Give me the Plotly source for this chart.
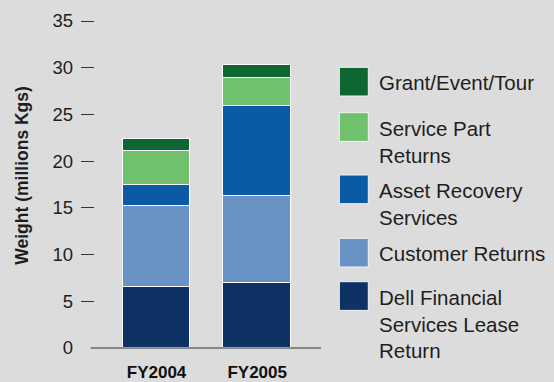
import plotly.graph_objects as go

# Recycled weight by take-back programme (millions of kg)
years = ["FY2004", "FY2005"]
series_names = [
    "Dell Financial<br>Services Lease<br>Return",
    "Customer Returns",
    "Asset Recovery<br>Services",
    "Service Part<br>Returns",
    "Grant/Event/Tour",
]
dell_financial = [6.5, 7.0]
customer_returns = [8.7, 9.3]
asset_recovery = [2.3, 9.6]
service_parts = [3.6, 3.0]
grant_event_tour = [1.3, 1.4]
series_values = [dell_financial, customer_returns, asset_recovery,
                 service_parts, grant_event_tour]
series_colors = ["#0f3264", "#6a93c5", "#0a5aa6", "#70c16d", "#0e6632"]
y_ticks = [0, 5, 10, 15, 20, 25, 30, 35]

W, H = 554, 382
L, R, T, B = 95, 233, 21, 34
PW, PH = W - L - R, H - T - B
BG = "#dcdcdc"
FONT = "Liberation Sans, Arial, sans-serif"


def px_x(p):
    return (p - L) / PW


def px_y(p):
    return (H - B - p) / PH


fig = go.Figure()
for name, vals, col in zip(series_names, series_values, series_colors):
    fig.add_trace(go.Bar(
        x=years, y=vals, name=name, width=0.675,
        marker=dict(color=col, line=dict(color="white", width=1.2)),
        showlegend=False,
    ))

# invisible carrier for the tick-mark axis
fig.add_trace(go.Scatter(x=[years[0]], y=[0], yaxis="y2", mode="markers",
                         marker=dict(opacity=0), showlegend=False,
                         hoverinfo="skip"))

shapes = [dict(type="line", xref="paper", yref="paper",
               x0=px_x(90.7), x1=px_x(321), y0=0, y1=0,
               line=dict(color="#333333", width=1.2))]
annotations = []

# legend: large swatches with wrapped labels, top item first
sq_tops = [281.7, 238.3, 175.0, 112.7, 67.3]
for name, col, top in zip(series_names, series_colors, sq_tops):
    shapes.append(dict(type="rect", xref="paper", yref="paper",
                       x0=px_x(339.3), x1=px_x(368.3),
                       y0=px_y(top + 28.7), y1=px_y(top),
                       fillcolor=col, line=dict(color="#f4f4f4", width=1)))
    annotations.append(dict(
        text=name, xref="paper", yref="paper", showarrow=False,
        x=px_x(377.5), y=px_y(top + 3), xanchor="left", yanchor="top",
        align="left", borderpad=0,
        font=dict(family=FONT, size=20.5, color="#1e1e1e"),
    ))

annotations.append(dict(
    text="<b>Weight (millions Kgs)</b>", xref="paper", yref="paper",
    showarrow=False, x=px_x(21.7), y=px_y(175), textangle=-90,
    xanchor="center", yanchor="middle",
    font=dict(family=FONT, size=17.5, color="#1e1e1e"),
))

fig.update_layout(
    width=W, height=H,
    margin=dict(l=L, r=R, t=T, b=B, pad=0, autoexpand=False),
    paper_bgcolor=BG, plot_bgcolor=BG,
    barmode="stack", bargap=0,
    shapes=shapes, annotations=annotations,
    xaxis=dict(range=[-0.611, 1.634], showgrid=False, zeroline=False,
               showline=False, ticks="", ticklabelstandoff=12,
               automargin=False,
               tickfont=dict(family=FONT, size=17, color="#111111", weight="bold"),
               fixedrange=True),
    yaxis=dict(range=[0, 35], tickvals=y_ticks, showgrid=False,
               zeroline=False, showline=False, ticks="",
               ticklabelstandoff=21, automargin=False,
               tickfont=dict(family=FONT, size=18.5, color="#1e1e1e"),
               fixedrange=True),
    yaxis2=dict(range=[0, 35], overlaying="y", side="left", anchor="x",
                tickvals=y_ticks[1:], ticks="outside", ticklen=13,
                tickwidth=1.3, tickcolor="#333333", showticklabels=False,
                showgrid=False, zeroline=False, showline=False,
                automargin=False, fixedrange=True),
    font=dict(family=FONT),
)

fig.write_html("out.html")
